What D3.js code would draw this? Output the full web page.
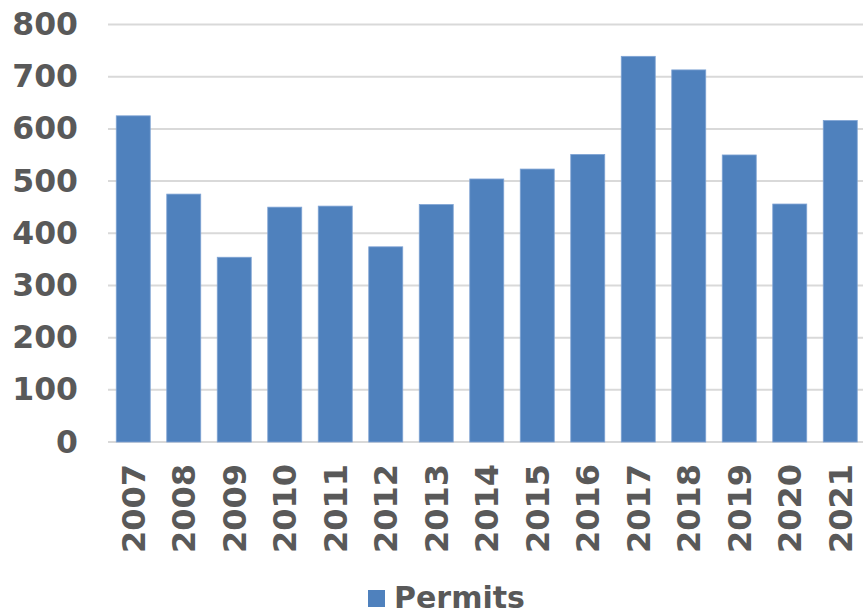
<head>
    <script src="https://cdnjs.cloudflare.com/ajax/libs/d3/7.8.5/d3.min.js"></script>
</head>

<style>
body {
    margin: 0;
    background: #fff;
}
text {
    font-family: "DejaVu Sans", sans-serif;
    font-weight: bold;
    fill: #595959;
}
</style>

<body>
    <svg id="canvas"></svg>

<script>

const years = ['2007', '2008', '2009', '2010', '2011', '2012', '2013', '2014',
	'2015', '2016', '2017', '2018', '2019', '2020', '2021'];
const permits = [625, 475, 354, 450, 452, 374, 455, 504, 523, 551, 739, 713, 550, 456, 616];
const yTicks = [0, 100, 200, 300, 400, 500, 600, 700, 800];
const seriesName = 'Permits';

const width = 863, height = 613;
const plotLeft = 108, plotRight = 865.5,
	plotTop = 24.5, plotBottom = 442;

const svg = d3.select('svg#canvas')
	.attr('width', width)
	.attr('height', height);

const x = d3.scaleBand()
	.domain(years)
	.range([plotLeft, plotRight])
	.paddingInner(0.327)
	.paddingOuter(0.1635);

const y = d3.scaleLinear()
	.domain([0, 800])
	.range([plotBottom, plotTop]);

// gridlines
svg.append('g')
	.selectAll('line')
	.data(yTicks)
	.join('line')
		.attr('x1', plotLeft)
		.attr('x2', width)
		.attr('y1', d => y(d))
		.attr('y2', d => y(d))
		.attr('stroke', '#d9d9d9')
		.attr('stroke-width', 2);

// y axis labels
const yAxis = d3.axisLeft(y).tickValues(yTicks).tickSize(0).tickPadding(0);
svg.append('g')
	.attr('transform', `translate(${78},0)`)
	.call(yAxis)
	.call(g => g.select('.domain').remove())
	.selectAll('text')
		.attr('font-size', 31.5)
		.attr('font-family', null)
		.attr('fill', '#595959');

// bars
svg.append('g')
	.selectAll('rect')
	.data(years)
	.join('rect')
		.attr('x', d => x(d))
		.attr('width', x.bandwidth())
		.attr('y', (d, i) => y(permits[i]))
		.attr('height', (d, i) => y(0) - y(permits[i]))
		.attr('fill', '#4f81bd')
		.attr('stroke', '#7fa3d4')
		.attr('stroke-width', 0.8);

// x axis labels, rotated
const xAxis = d3.axisBottom(x).tickSize(0).tickPadding(0);
svg.append('g')
	.attr('transform', `translate(0,${plotBottom})`)
	.call(xAxis)
	.call(g => g.select('.domain').remove())
	.selectAll('text')
		.attr('font-size', 32)
		.attr('font-family', null)
		.attr('fill', '#595959')
		.attr('text-anchor', 'end')
		.attr('transform', 'translate(0,22) rotate(-90)')
		.attr('y', 0)
		.attr('x', 0)
		.attr('dy', '0.36em');

// legend
const legend = svg.append('g')
	.attr('transform', 'translate(368,590)');
legend.append('rect')
	.attr('width', 17)
	.attr('height', 17)
	.attr('fill', '#4f81bd');
legend.append('text')
	.attr('x', 26)
	.attr('y', 18)
	.attr('font-size', 30)
	.text(seriesName);

  </script>
</body>
</html>
